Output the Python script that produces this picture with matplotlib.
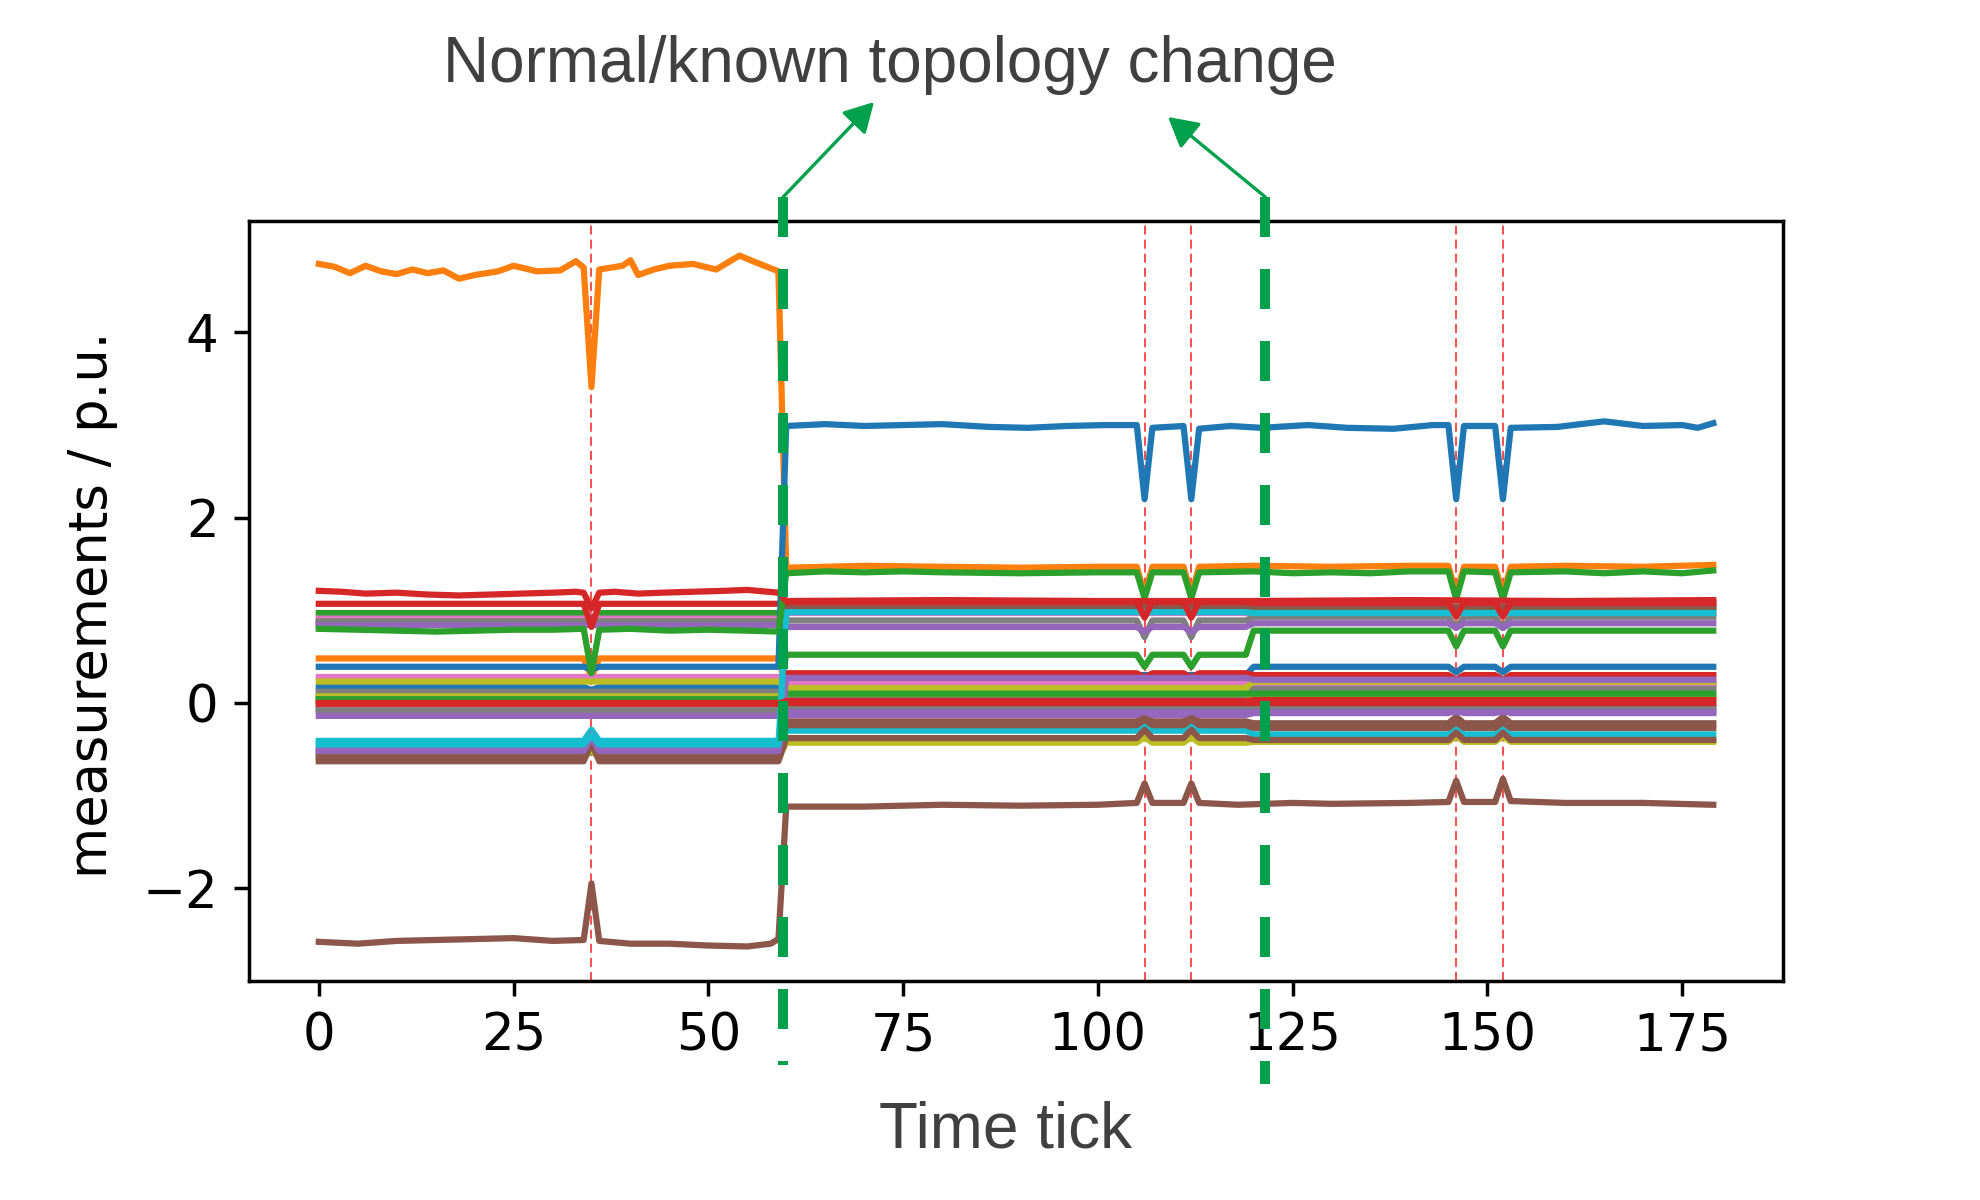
import matplotlib
matplotlib.use("Agg")
import matplotlib.pyplot as plt
import matplotlib.transforms as mtransforms

# tab10 colours used by the measurement traces
C = ['#1f77b4', '#ff7f0e', '#2ca02c', '#d62728', '#9467bd',
     '#8c564b', '#e377c2', '#7f7f7f', '#bcbd22', '#17becf']

# ---- data -------------------------------------------------------------
# prominent traces, (tick, value) knots
orange_t = [0, 2, 4, 6, 8, 10, 12, 14, 16, 18, 20, 23, 25, 28, 31, 33, 34, 35, 36,
            39, 40, 41, 43, 45, 48, 51, 54, 56, 59,
            60, 70, 80, 90, 100, 105, 106, 107, 111, 112, 113, 120, 130, 140,
            145, 146, 147, 151, 152, 153, 160, 170, 179]
orange_v = [4.74, 4.71, 4.64, 4.72, 4.66, 4.63, 4.68, 4.64, 4.67, 4.58, 4.62, 4.66,
            4.72, 4.66, 4.67, 4.77, 4.70, 3.41, 4.68, 4.72, 4.78, 4.62, 4.68, 4.72,
            4.74, 4.68, 4.83, 4.76, 4.66,
            1.46, 1.48, 1.47, 1.46, 1.47, 1.47, 1.17, 1.47, 1.47, 1.17, 1.47, 1.48,
            1.47, 1.48, 1.48, 1.17, 1.47, 1.47, 1.17, 1.47, 1.48, 1.47, 1.49]

blue_t = [0, 34, 35, 36, 59,
          60, 65, 70, 75, 80, 86, 91, 96, 101, 105, 106, 107, 111, 112, 113, 117,
          121, 127, 132, 138, 143, 145, 146, 147, 151, 152, 153, 159, 165, 170,
          175, 177, 179]
blue_v = [0.39, 0.39, 0.36, 0.39, 0.39,
          2.99, 3.01, 2.99, 3.00, 3.01, 2.98, 2.97, 2.99, 3.00, 3.00, 2.20, 2.97,
          2.99, 2.20, 2.96, 2.99, 2.97, 3.00, 2.97, 2.96, 3.00, 3.00, 2.20, 2.99,
          2.99, 2.20, 2.97, 2.98, 3.04, 2.99, 3.00, 2.97, 3.02]

green_t = [0, 5, 10, 15, 20, 25, 30, 34, 35, 36, 40, 45, 50, 55, 59,
           60, 65, 70, 75, 80, 90, 100, 105, 106, 107, 111, 112, 113, 120, 125,
           130, 135, 140, 145, 146, 147, 151, 152, 153, 160, 165, 170, 175, 179]
green_v = [0.80, 0.79, 0.78, 0.77, 0.78, 0.79, 0.79, 0.80, 0.32, 0.79, 0.80, 0.78,
           0.79, 0.78, 0.77,
           1.40, 1.42, 1.41, 1.42, 1.41, 1.40, 1.41, 1.41, 1.13, 1.41, 1.41, 1.13,
           1.41, 1.42, 1.40, 1.41, 1.40, 1.42, 1.42, 1.12, 1.42, 1.41, 1.12, 1.41,
           1.42, 1.40, 1.42, 1.40, 1.43]

red_t = [0, 3, 6, 10, 14, 18, 22, 26, 30, 33, 34, 35, 36, 38, 41, 44, 48, 52, 55, 59,
         60, 80, 100, 120, 140, 160, 179]
red_v = [1.21, 1.20, 1.18, 1.19, 1.17, 1.16, 1.17, 1.18, 1.19, 1.20, 1.19, 1.02,
         1.19, 1.20, 1.18, 1.19, 1.20, 1.21, 1.22, 1.19,
         1.10, 1.11, 1.10, 1.10, 1.11, 1.10, 1.11]

brown_t = [0, 5, 10, 15, 20, 25, 30, 34, 35, 36, 40, 45, 50, 55, 58, 59,
           60, 70, 80, 90, 100, 105, 106, 107, 111, 112, 113, 118, 125, 130, 140,
           145, 146, 147, 151, 152, 153, 160, 170, 179]
brown_v = [-2.58, -2.60, -2.57, -2.56, -2.55, -2.54, -2.57, -2.56, -1.95, -2.57,
           -2.60, -2.60, -2.62, -2.63, -2.60, -2.55,
           -1.12, -1.12, -1.10, -1.11, -1.10, -1.08, -0.87, -1.08, -1.08, -0.87,
           -1.08, -1.10, -1.08, -1.09, -1.08, -1.07, -0.84, -1.07, -1.07, -0.82,
           -1.06, -1.08, -1.08, -1.10]

# flat traces: level before tick 60, 60-119, from 120; offsets at the event ticks
band_color = [C[2], C[6], C[5], C[9], C[7], C[4], C[2], C[1], C[0], C[3],
              C[6], C[8], C[7], C[8], C[2], C[5], C[6], C[7], C[4], C[4],
              C[7], C[8], C[5], C[5], C[4], C[9], C[3], C[3], C[3]]
band_pre = [0.97, 0.91, 0.86, -0.41, 0.88, 0.84, 0.07, 0.48, 0.17, 0.02,
            0.28, 0.23, 0.12, 0.07, 0.04, -0.07, -0.05, -0.08, -0.14, -0.49,
            -0.54, -0.60, -0.63, -0.58, -0.52, -0.45, 1.07, 0.00, -0.01]
band_mid = [1.03, 0.97, 1.04, -0.30, 0.89, 0.82, 0.52, 0.18, 0.30, 0.32,
            0.21, 0.16, 0.05, 0.10, 0.10, -0.20, -0.05, -0.08, -0.13, 0.27,
            -0.03, -0.43, -0.38, -0.24, -0.10, 0.98, 1.09, 0.00, 0.02]
band_post = [1.03, 0.97, 1.04, -0.34, 0.93, 0.86, 0.78, 0.18, 0.39, 0.30,
             0.21, 0.23, 0.15, 0.06, 0.10, -0.22, -0.05, -0.05, -0.11, 0.25,
             -0.03, -0.42, -0.40, -0.27, -0.10, 0.97, 1.08, 0.00, 0.03]
band_d35 = [-0.05, 0.03, 0.06, 0.12, 0.0, 0.0, 0.0, -0.20, -0.03, 0.0,
            0.0, 0.0, 0.0, 0.0, 0.0, 0.0, 0.0, 0.0, 0.0, 0.15,
            0.0, 0.10, 0.20, 0.17, 0.15, 0.10, -0.25, 0.0, 0.0]
band_dmid = [0.0, 0.0, 0.0, 0.05, -0.18, -0.05, -0.13, 0.03, 0.0, -0.05,
             0.0, 0.0, 0.0, 0.0, 0.0, 0.06, 0.0, 0.0, 0.04, 0.0,
             0.0, 0.06, 0.09, 0.06, 0.0, 0.0, -0.17, 0.0, 0.0]
band_dpost = [0.0, 0.0, 0.0, 0.06, -0.12, -0.05, -0.17, 0.04, -0.06, -0.05,
              0.0, 0.0, 0.0, 0.0, 0.0, 0.07, 0.0, 0.0, 0.04, 0.0,
              0.0, 0.06, 0.08, 0.06, 0.0, 0.0, -0.15, 0.0, 0.0]

anomaly_ticks = [35, 106, 112, 146, 152]
topology_change_ticks = [59.6, 121.5]


def band_points(pre, mid, post, d35, dmid, dpost):
    t = [0, 34, 35, 36, 59, 60, 105, 106, 107, 111, 112, 113, 119,
         120, 145, 146, 147, 151, 152, 153, 179]
    v = [pre, pre, pre + d35, pre, pre,
         mid, mid, mid + dmid, mid, mid, mid + dmid, mid, mid,
         post, post, post + dpost, post, post, post + dpost, post, post]
    return t, v


GREEN = '#00a04c'
TXT = '#404040'
LW = 4.5

fig = plt.figure(figsize=(19.8, 12), dpi=100)
ax = fig.add_axes([0.1258, 0.1825, 0.7747, 0.6333])

for i in range(len(band_color)):
    t, v = band_points(band_pre[i], band_mid[i], band_post[i],
                       band_d35[i], band_dmid[i], band_dpost[i])
    ax.plot(t, v, color=band_color[i], lw=LW, zorder=2)

ax.plot(orange_t, orange_v, color=C[1], lw=LW, zorder=2)
ax.plot(blue_t, blue_v, color=C[0], lw=LW, zorder=2)
ax.plot(green_t, green_v, color=C[2], lw=LW, zorder=2)
ax.plot(red_t, red_v, color=C[3], lw=LW, zorder=2)
ax.plot(brown_t, brown_v, color=C[5], lw=LW, zorder=2)

for x in anomaly_ticks:
    ax.axvline(x, color='#ff2020', lw=1.3, ls=(0, (5, 2.8)), alpha=0.85, zorder=1)

ax.set_xticks([0, 25, 50, 75, 100, 125, 150, 175])
ax.set_yticks([-2, 0, 2, 4])
ax.tick_params(labelsize=37, length=11, width=2.5, pad=11)
for s in ax.spines.values():
    s.set_linewidth(2.5)

# topology change markers (green dashed lines with arrows to the caption)
trans = mtransforms.blended_transform_factory(ax.transData, ax.transAxes)
bottoms = [-0.1105, -0.1355]
for x, yb in zip(topology_change_ticks, bottoms):
    ax.plot([x, x], [1.0316, yb], transform=trans, color=GREEN, lw=7.2,
            dashes=(4, 3.2), clip_on=False, zorder=10, solid_capstyle='butt',
            dash_capstyle='butt')

arr = dict(arrowstyle='-|>,head_length=0.9,head_width=0.5', color=GREEN,
           lw=2.4, shrinkA=0, shrinkB=0, mutation_scale=20)
ax.annotate('', xy=(874 / 1980, 1 - 102 / 1200), xycoords='figure fraction',
            xytext=(topology_change_ticks[0], 1.0316), textcoords=trans,
            arrowprops=arr)
ax.annotate('', xy=(1168 / 1980, 1 - 117 / 1200), xycoords='figure fraction',
            xytext=(topology_change_ticks[1], 1.0316), textcoords=trans,
            arrowprops=arr)

fig.text(0.4495, 1 - 82 / 1200, 'Normal/known topology change', ha='center',
         va='baseline', fontsize=46, color=TXT, family='Liberation Sans')
fig.text(0.508, 1 - 1147 / 1200, 'Time tick', ha='center', va='baseline',
         fontsize=46, color=TXT, family='Liberation Sans')
fig.text(0.0465, 0.496, 'measurements / p.u.', rotation=90, ha='center',
         va='center', fontsize=38, color='black')

fig.savefig('out.png', dpi=100)
